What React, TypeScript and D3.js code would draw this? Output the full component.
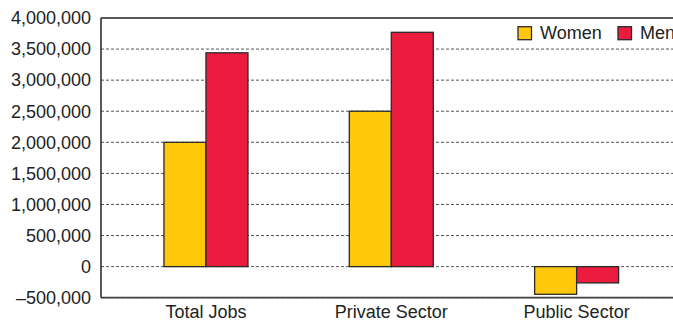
import React from "react";
import * as d3 from "d3";

const categories = ["Total Jobs", "Private Sector", "Public Sector"];
const seriesNames = ["Women", "Men"];
const womenValues = [2000000, 2500000, -445000];
const menValues = [3440000, 3770000, -262000];
const yTicks = [-500000, 0, 500000, 1000000, 1500000, 2000000, 2500000, 3000000, 3500000, 4000000];
const colors = ["#FFC80B", "#EC1C3E"];

const W = 673;
const H = 321;
const left = 101;
const top = 18;
const bottom = 297.7;
const font = "'Liberation Sans', Arial, Helvetica, sans-serif";

export default function App() {
  const y = d3.scaleLinear().domain([-500000, 4000000]).range([bottom, top]);
  const x0 = d3.scaleBand<string>().domain(categories).range([113.3, 669.3]).paddingInner(0).paddingOuter(0);
  const step = x0.bandwidth();
  const groupW = 84;
  const x1 = d3
    .scaleBand<string>()
    .domain(seriesNames)
    .range([(step - groupW) / 2, (step + groupW) / 2])
    .padding(0);
  const fmt = (v: number) => (v < 0 ? "\u2013" + d3.format(",")(-v) : d3.format(",")(v));
  const series = [womenValues, menValues];

  return (
    <svg width={W} height={H} style={{ position: "absolute", left: 0, top: 0, background: "#fff" }} fontFamily={font}>
      {yTicks.map((t) => (
        <g key={t}>
          {t !== 4000000 && (
            <line x1={left} x2={W} y1={y(t)} y2={y(t)} stroke="#555" strokeWidth={1} strokeDasharray="3,2" />
          )}
          <text x={91} y={y(t)} dy="0.35em" textAnchor="end" fontSize={18} fill="#222">
            {fmt(t)}
          </text>
        </g>
      ))}
      {categories.map((c, i) => (
        <g key={c} transform={`translate(${x0(c)},0)`}>
          {seriesNames.map((s, j) => {
            const v = series[j][i];
            const y0 = y(Math.max(0, v));
            const h = Math.abs(y(v) - y(0));
            return (
              <rect
                key={s}
                x={x1(s)}
                y={y0}
                width={x1.bandwidth()}
                height={h}
                fill={colors[j]}
                stroke="#2a2a2a"
                strokeWidth={1.3}
              />
            );
          })}
          <text x={step / 2} y={318} textAnchor="middle" fontSize={18} fill="#222">
            {c}
          </text>
        </g>
      ))}
      <line x1={left} x2={W} y1={top} y2={top} stroke="#222" strokeWidth={1.5} />
      <line x1={left} x2={W} y1={bottom} y2={bottom} stroke="#444" strokeWidth={1.8} />
      <line x1={left} x2={left} y1={top} y2={bottom} stroke="#222" strokeWidth={1.5} />
      {seriesNames.map((s, j) => {
        const lx = j === 0 ? 518 : 618;
        return (
          <g key={s}>
            <rect x={lx} y={26.7} width={13.5} height={13} fill={colors[j]} stroke="#2a2a2a" strokeWidth={1.3} />
            <text x={lx + 22} y={39} fontSize={18} fill="#222">
              {s}
            </text>
          </g>
        );
      })}
    </svg>
  );
}
